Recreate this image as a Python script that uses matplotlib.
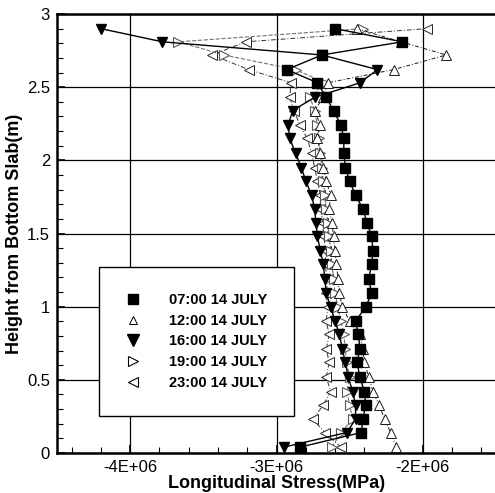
import numpy as np
import matplotlib
matplotlib.use("Agg")
import matplotlib.pyplot as plt
from matplotlib.ticker import MultipleLocator, FuncFormatter

plt.rcParams['font.family'] = ['Liberation Sans', 'DejaVu Sans']

# heights of the nodes (m), bottom to top
height = [0.04, 0.14, 0.23, 0.33, 0.42, 0.52, 0.62, 0.71, 0.81, 0.90,
          1.00, 1.09, 1.19, 1.29, 1.38, 1.48, 1.57, 1.67, 1.76, 1.86,
          1.95, 2.05, 2.15, 2.24, 2.34, 2.43, 2.53, 2.62, 2.72, 2.81, 2.90]

# stress, in units of 1E+06
s0700 = [-2.84, -2.42, -2.41, -2.39, -2.40, -2.43, -2.45, -2.43, -2.44, -2.46,
         -2.39, -2.35, -2.37, -2.35, -2.34, -2.35, -2.38, -2.41, -2.46, -2.50,
         -2.53, -2.54, -2.54, -2.56, -2.61, -2.66, -2.72, -2.93, -2.69, -2.14, -2.60]
s1200 = [-2.18, -2.22, -2.26, -2.30, -2.34, -2.37, -2.40, -2.41, -2.43, -2.50,
         -2.55, -2.57, -2.58, -2.59, -2.60, -2.61, -2.62, -2.64, -2.63, -2.66,
         -2.68, -2.70, -2.72, -2.70, -2.74, -2.68, -2.65, -2.20, -1.84, -2.15, -2.45]
s1600 = [-2.95, -2.52, -2.46, -2.46, -2.48, -2.51, -2.53, -2.55, -2.57, -2.60,
         -2.63, -2.66, -2.67, -2.68, -2.70, -2.72, -2.73, -2.74, -2.76, -2.80,
         -2.83, -2.87, -2.91, -2.92, -2.89, -2.74, -2.43, -2.31, -2.69, -3.78, -4.20]
s1900 = [-2.62, -2.56, -2.48, -2.50, -2.52, -2.50, -2.52, -2.53, -2.54, -2.56,
         -2.58, -2.60, -2.61, -2.62, -2.63, -2.64, -2.65, -2.66, -2.67, -2.68,
         -2.69, -2.70, -2.71, -2.72, -2.74, -2.77, -2.67, -2.87, -3.36, -3.67, -2.41]
s2300 = [-2.56, -2.67, -2.75, -2.68, -2.63, -2.66, -2.64, -2.66, -2.64, -2.66,
         -2.65, -2.66, -2.65, -2.67, -2.66, -2.68, -2.68, -2.70, -2.70, -2.72,
         -2.74, -2.76, -2.79, -2.84, -2.88, -2.91, -2.90, -3.19, -3.44, -3.21, -1.97]

labels = ['07:00 14 JULY', '12:00 14 JULY', '16:00 14 JULY',
          '19:00 14 JULY', '23:00 14 JULY']

fig = plt.figure(figsize=(4.95, 4.93), dpi=100)
ax = fig.add_axes([57/495, 40/493, 439/495, 439/493])

h = np.array(height)
# drawing order: open symbols first, filled on top
ax.plot(np.array(s2300)*1e6, h, ls=(0, (5, 2, 1, 2)), lw=0.7, color='0.2',
        marker='<', ms=7, mfc='white', mec='0.15', mew=0.7, zorder=3)
ax.plot(np.array(s1900)*1e6, h, ls='--', lw=0.8, color='0.45',
        marker='>', ms=7, mfc='white', mec='0.35', mew=0.8, zorder=3)
ax.plot(np.array(s1200)*1e6, h, ls=(0, (4, 2, 1, 2)), lw=0.7, color='0.1',
        marker='^', ms=7, mfc='white', mec='0.1', mew=0.7, zorder=3)
ax.plot(np.array(s1600)*1e6, h, ls='-', lw=1.0, color='black',
        marker='v', ms=7.5, mfc='black', mec='black', zorder=4)
ax.plot(np.array(s0700)*1e6, h, ls='-', lw=1.0, color='black',
        marker='s', ms=6.5, mfc='black', mec='black', zorder=5)

ax.set_xlim(-4.5e6, -1.5e6)
ax.set_ylim(0, 3)
ax.xaxis.set_major_locator(MultipleLocator(1e6))
ax.xaxis.set_minor_locator(MultipleLocator(2e5))
ax.yaxis.set_major_locator(MultipleLocator(0.5))
ax.yaxis.set_minor_locator(MultipleLocator(0.1))
ax.xaxis.set_major_formatter(FuncFormatter(lambda v, p: f"{v:.0E}"))
ax.yaxis.set_major_formatter(FuncFormatter(lambda v, p: f"{v:g}"))
ax.tick_params(which='both', direction='in', top=False, right=False,
               labelsize=12, colors='black')
ax.tick_params(which='major', length=6, width=1.2, pad=5)
ax.tick_params(which='minor', length=4, width=0.8)
ax.grid(True, which='major', color='black', lw=0.9)
ax.set_axisbelow(True)
for sp in ax.spines.values():
    sp.set_linewidth(1.8)

ax.set_xlabel('Longitudinal Stress(MPa)', fontsize=13, fontweight='bold', labelpad=0)
ax.set_ylabel('Height from Bottom Slab(m)', fontsize=13, fontweight='bold', labelpad=3)

# legend: markers only
handles = [
    plt.Line2D([], [], ls='none', marker='s', ms=7, mfc='black', mec='black'),
    plt.Line2D([], [], ls='none', marker='^', ms=6, mfc='white', mec='black', mew=0.7),
    plt.Line2D([], [], ls='none', marker='v', ms=8, mfc='black', mec='black'),
    plt.Line2D([], [], ls='none', marker='>', ms=7, mfc='white', mec='black', mew=0.8),
    plt.Line2D([], [], ls='none', marker='<', ms=7, mfc='white', mec='black', mew=0.8),
]
leg = ax.legend(handles, labels, loc='center', bbox_to_anchor=(0.318, 0.254),
                prop={'size': 10.5, 'weight': 'bold'}, frameon=True, fancybox=False,
                edgecolor='black', framealpha=1, borderpad=1.8, handlelength=1.0,
                handletextpad=2.0, labelspacing=0.45)
leg.get_frame().set_linewidth(1.0)
leg.set_zorder(10)

fig.savefig('out.png', dpi=100)
